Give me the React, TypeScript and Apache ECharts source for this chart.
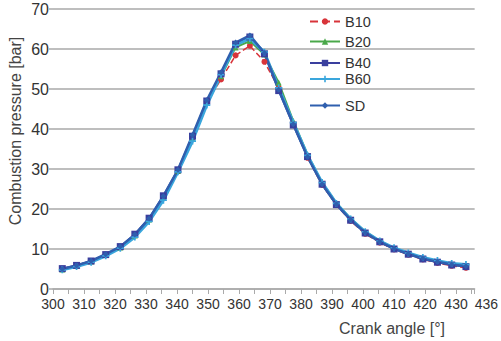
import React, { useEffect, useRef } from "react";
import * as echarts from "echarts";

const angles = [303, 307.6, 312.3, 317, 321.7, 326.4, 331, 335.6, 340.3, 345, 349.6, 354.2, 358.9, 363.5, 368.2, 372.8, 377.5, 382.1, 386.8, 391.4, 396, 400.7, 405.4, 410, 414.6, 419.3, 424, 428.6, 433.2];
const B10 = [5.0, 5.9, 7.0, 8.6, 10.5, 13.5, 17.5, 23.0, 29.6, 38.0, 46.8, 52.4, 58.4, 60.8, 56.8, 50.2, 41.2, 32.8, 26.0, 21.0, 17.0, 13.8, 11.6, 9.9, 8.6, 7.4, 6.5, 5.8, 5.3];
const B20 = [4.9, 5.8, 6.9, 8.5, 10.4, 13.4, 17.4, 22.8, 29.5, 37.8, 46.5, 53.2, 60.4, 62.0, 58.6, 51.6, 42.0, 33.6, 26.6, 21.5, 17.6, 14.4, 12.0, 10.2, 8.9, 7.7, 6.8, 6.1, 5.7];
const B40 = [5.1, 5.9, 7.0, 8.6, 10.6, 13.7, 17.7, 23.3, 29.8, 38.2, 47.0, 53.8, 61.2, 63.0, 58.8, 49.6, 41.0, 33.1, 26.2, 21.1, 17.2, 14.0, 11.8, 10.0, 8.7, 7.5, 6.7, 6.0, 5.6];
const B60 = [4.8, 5.6, 6.7, 8.3, 10.2, 13.0, 16.9, 22.2, 29.3, 37.0, 46.0, 53.6, 61.0, 62.6, 59.2, 50.3, 41.6, 33.4, 26.6, 21.4, 17.5, 14.3, 12.0, 10.3, 9.0, 7.9, 7.1, 6.4, 6.1];
const SD = [5.0, 5.9, 7.0, 8.7, 10.6, 13.6, 17.6, 23.2, 29.8, 38.5, 47.2, 54.2, 61.6, 63.4, 59.0, 49.8, 41.2, 33.0, 26.2, 21.2, 17.3, 14.1, 11.8, 10.1, 8.8, 7.6, 6.8, 6.1, 5.7];

const seriesNames = ["B10", "B20", "B40", "B60", "SD"];
const legendCenters = [20, 40, 61.5, 77.5, 104];

const xTickValues = [300, 310, 320, 330, 340, 350, 360, 370, 380, 390, 400, 410, 420, 430, 436];
const xMinorTickValues = [305, 315, 325, 335, 345, 355, 365, 375, 385, 395, 405, 415, 425, 435];
const yTickValues = [0, 10, 20, 30, 40, 50, 60, 70];

const xTitle = "Crank angle [°]";
const yTitle = "Combustion pressure [bar]";

export default function App() {
  const ref = useRef<HTMLDivElement>(null);
  useEffect(() => {
    if (!ref.current) return;
    const chart = echarts.init(ref.current, undefined, { renderer: "svg" });
    const pair = (ys: number[]) => angles.map((a, i) => [a, ys[i]]);
    const font = "Liberation Sans, Arial, sans-serif";
    const cross = "path://M3,0L5,0L5,3L8,3L8,5L5,5L5,8L3,8L3,5L0,5L0,3L3,3Z";
    chart.setOption({
      animation: false,
      backgroundColor: "#ffffff",
      grid: { left: 53, right: 20, top: 9, bottom: 52, containLabel: false },
      legend: seriesNames.map((n, i) => ({
        data: [n],
        left: 309,
        top: legendCenters[i] - 6,
        padding: 0,
        itemWidth: 30,
        itemHeight: 8,
        itemGap: 0,
        textStyle: { fontSize: 14.5, lineHeight: 12, color: "#333", fontFamily: font },
      })),
      xAxis: {
        type: "value",
        min: 300,
        max: 436,
        axisLine: { show: true, lineStyle: { color: "#aaa", width: 1.5 } },
        axisTick: {
          show: true,
          length: 5,
          customValues: xTickValues.concat(xMinorTickValues),
          lineStyle: { color: "#aaa" },
        },
        splitLine: { show: false },
        axisLabel: {
          customValues: xTickValues,
          showMinLabel: true,
          showMaxLabel: true,
          alignMaxLabel: "left",
          hideOverlap: false,
          fontSize: 14,
          lineHeight: 12,
          color: "#333",
          margin: 9,
          fontFamily: font,
        },
      },
      yAxis: {
        type: "value",
        min: 0,
        max: 70,
        interval: 10,
        axisLine: { show: false },
        axisTick: { show: true, length: 4, lineStyle: { color: "#aaa", width: 1.5 } },
        splitLine: { show: true, lineStyle: { color: "#a9a9a9", width: 1.5 } },
        axisLabel: {
          customValues: yTickValues,
          fontSize: 16,
          lineHeight: 12,
          color: "#333",
          margin: 4,
          fontFamily: font,
        },
      },
      graphic: [
        {
          type: "text",
          x: 392,
          y: 328,
          style: {
            text: xTitle,
            fontSize: 16,
            fill: "#444",
            fontFamily: font,
            textAlign: "center",
            textVerticalAlign: "middle",
          },
        },
        {
          type: "text",
          x: 15,
          y: 131,
          rotation: Math.PI / 2,
          style: {
            text: yTitle,
            fontSize: 16,
            fill: "#444",
            fontFamily: font,
            textAlign: "center",
            textVerticalAlign: "middle",
          },
        },
      ],
      series: [
        {
          name: "B10",
          type: "line",
          data: pair(B10),
          symbol: "circle",
          symbolSize: 6,
          color: "#d8343a",
          lineStyle: { width: 1.5, type: "dashed", color: "#d8343a" },
          itemStyle: { color: "#d8343a" },
        },
        {
          name: "B20",
          type: "line",
          data: pair(B20),
          symbol: "triangle",
          symbolSize: 6,
          color: "#4aa84a",
          lineStyle: { width: 2, color: "#4aa84a" },
          itemStyle: { color: "#4aa84a" },
        },
        {
          name: "B40",
          type: "line",
          data: pair(B40),
          symbol: "rect",
          symbolSize: 7,
          color: "#3a3f9e",
          lineStyle: { width: 2, color: "#3a3f9e" },
          itemStyle: { color: "#3a3f9e" },
        },
        {
          name: "B60",
          type: "line",
          data: pair(B60),
          symbol: cross,
          symbolSize: 7,
          color: "#3aa6dc",
          lineStyle: { width: 3, color: "#3aa6dc" },
          itemStyle: { color: "#3aa6dc" },
        },
        {
          name: "SD",
          type: "line",
          data: pair(SD),
          symbol: "diamond",
          symbolSize: 6,
          color: "#2f5fae",
          lineStyle: { width: 2.5, color: "#2f5fae" },
          itemStyle: { color: "#2f5fae" },
        },
      ],
    });
    return () => chart.dispose();
  }, []);
  return (
    <div
      ref={ref}
      style={{ width: 501, height: 341, position: "absolute", left: 0, top: 0 }}
    />
  );
}
